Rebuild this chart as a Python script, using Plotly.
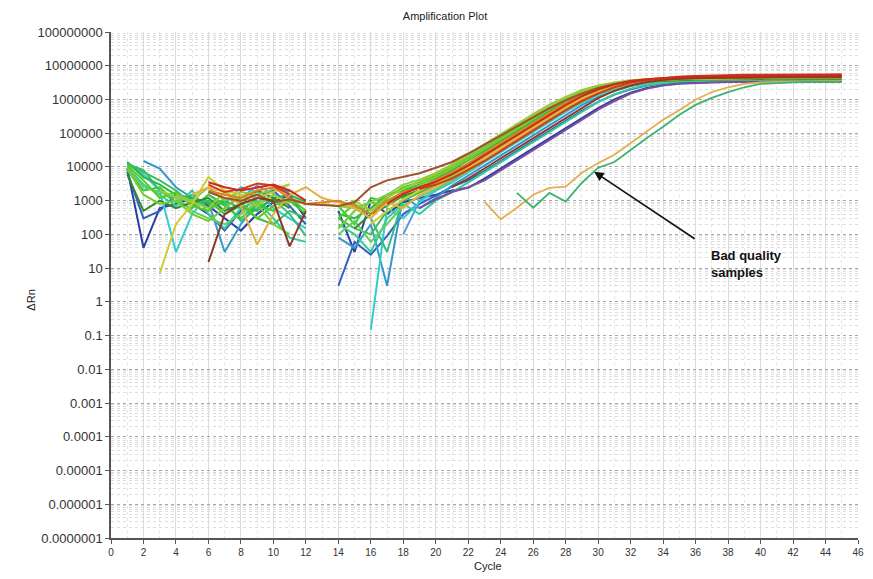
import math
import plotly.graph_objects as go

N = None

# Amplification curves: (start cycle, values for consecutive cycles)
series_colors = [
    "#2c3e9e", "#3060c0", "#3399cc", "#5599dd", "#33cccc", "#33cc99", "#33bb88",
    "#22bb44", "#33cc33", "#44bb55", "#66cc66", "#2e8b2e", "#55cc22", "#77cc33",
    "#88cc44", "#99cc33", "#cccc33", "#7a4fa0", "#e6b040", "#e08020", "#a0522d",
    "#8b3a2a", "#d03a20", "#cc2a1a",
]
series_start = [1, 1, 2, 7, 1, 1, 1, 1, 1, 1, 1, 1, 1, 1, 4, 3, 3, 19, 5, 6, 6, 6, 6, 6]
series_values = [
    [9000, 40, 600, 800, 1200, 700, 300, 130, 400, 900, 1500, 300, N, 500, 30, 1000, 400, 900, 1200, 1500, 2000, 2400, 4500, 9000, 18000, 36000, 70000, 1.4e5, 2.8e5, 5.5e5, 1.0e6, 1.6e6, 2.2e6, 2.7e6, 3.0e6, 3.2e6, 3.3e6, 3.4e6, 3.4e6, 3.5e6, 3.5e6, 3.5e6, 3.5e6, 3.6e6, 3.6e6],
    [7000, 300, 500, 1500, 800, 400, 130, 500, 1200, 2000, 700, 200, N, 3, 60, 25, 90, 400, 800, 1400, 2600, 4000, 7500, 15000, 30000, 60000, 1.2e5, 2.4e5, 4.6e5, 8.5e5, 1.4e6, 2.0e6, 2.6e6, 3.0e6, 3.3e6, 3.5e6, 3.6e6, 3.7e6, 3.8e6, 3.8e6, 3.9e6, 3.9e6, 4.0e6, 4.0e6, 4.0e6],
    [15000, 9000, 2500, 1200, 900, 30, 200, 800, 2500, 1800, N, N, 80, 40, 200, 3, 1500, 600, 1200, 2800, 5500, 11000, 22000, 45000, 90000, 1.8e5, 3.5e5, 6.8e5, 1.2e6, 1.8e6, 2.5e6, 3.0e6, 3.3e6, 3.5e6, 3.6e6, 3.7e6, 3.8e6, 3.8e6, 3.9e6, 3.9e6, 4.0e6, 4.0e6, 4.0e6, 4.1e6],
    [700, 1200, 2800, 1600, 900, N, N, N, N, N, N, 100, 1000, 2000, 3600, 7000, 14000, 28000, 56000, 1.1e5, 2.2e5, 4.4e5, 8.4e5, 1.45e6, 2.1e6, 2.7e6, 3.1e6, 3.4e6, 3.6e6, 3.7e6, 3.7e6, 3.8e6, 3.8e6, 3.8e6, 3.9e6, 3.9e6, 3.9e6, 3.9e6, 4.0e6],
    [12000, 6000, 2000, 30, 400, 1500, 800, 2500, 1800, 600, 300, 150, N, N, N, 0.15, 600, 300, 900, 2000, 3500, 7000, 14000, 28000, 56000, 1.1e5, 2.2e5, 4.3e5, 8.0e5, 1.4e6, 2.0e6, 2.6e6, 3.0e6, 3.3e6, 3.5e6, 3.6e6, 3.6e6, 3.7e6, 3.7e6, 3.8e6, 3.8e6, 3.8e6, 3.9e6, 3.9e6, 3.9e6],
    [10000, 3000, 1500, 700, 2000, 400, 150, 600, 1000, 300, 80, 60, N, 200, 100, 30, 300, 800, 400, 1000, 1800, 3500, 7000, 14000, 28000, 56000, 1.1e5, 2.2e5, 4.4e5, 8.5e5, 1.4e6, 2.1e6, 2.7e6, 3.1e6, 3.4e6, 3.5e6, 3.6e6, 3.7e6, 3.7e6, 3.8e6, 3.8e6, 3.8e6, 3.9e6, 3.9e6, 3.9e6],
    [12000, 8000, 2000, 900, 1500, 600, 900, 250, 600, 1100, 400, 90, N, N, 600, 300, 30, 1200, 1800, 2800, 5000, 9000, 18000, 36000, 72000, 1.4e5, 2.8e5, 5.4e5, 1.0e6, 1.6e6, 2.3e6, 2.9e6, 3.3e6, 3.6e6, 3.8e6, 3.9e6, 4.0e6, 4.0e6, 4.0e6, 4.1e6, 4.1e6, 4.1e6, 4.1e6, 4.2e6, 4.2e6],
    [14000, 5000, 3000, 1500, 1200, 800, 1000, 600, 500, 1200, 1500, 900, N, 400, 300, 600, 1500, 2000, 3000, 4500, 8000, 16000, 30000, 60000, 1.2e5, 2.4e5, 4.6e5, 8.5e5, 1.4e6, 2.0e6, 2.7e6, 3.2e6, 3.6e6, 3.8e6, 4.0e6, 4.1e6, 4.2e6, 4.2e6, 4.3e6, 4.3e6, 4.3e6, 4.4e6, 4.4e6, 4.4e6, 4.4e6],
    [8000, 2000, 2500, 900, 600, 1500, 700, 300, 800, 500, 1000, 400, N, 700, 200, 1200, 900, 1800, 2500, 3800, 6500, 12000, 24000, 48000, 95000, 1.9e5, 3.7e5, 7.0e5, 1.2e6, 1.8e6, 2.5e6, 3.0e6, 3.4e6, 3.7e6, 3.9e6, 4.0e6, 4.1e6, 4.1e6, 4.2e6, 4.2e6, 4.2e6, 4.3e6, 4.3e6, 4.3e6, 4.3e6],
    [13000, 7000, 4000, 2000, 800, 1000, 400, 700, 300, 200, 500, 300, N, 300, 150, 100, 500, 1000, 1700, 3000, 5200, 10000, 19000, 38000, 76000, 1.5e5, 3.0e5, 5.8e5, 1.05e6, 1.7e6, 2.4e6, 3.0e6, 3.4e6, 3.7e6, 3.9e6, 4.0e6, 4.0e6, 4.1e6, 4.1e6, 4.1e6, 4.2e6, 4.2e6, 4.2e6, 4.2e6, 4.2e6],
    [9500, 2500, 1800, 1200, 500, 300, 200, 400, 900, 1400, N, N, N, 100, 250, 60, 200, 700, 1300, 2200, 4000, 7500, 15000, 30000, 60000, 1.2e5, 2.4e5, 4.7e5, 8.8e5, 1.5e6, 2.2e6, 2.8e6, 3.2e6, 3.5e6, 3.7e6, 3.8e6, 3.8e6, 3.9e6, 3.9e6, 3.9e6, 4.0e6, 4.0e6, 4.0e6, 4.0e6, 4.0e6],
    [6000, 500, 1000, 600, 900, 1200, 500, 800, 2000, 1200, 600, N, N, N, 150, 400, 700, 1400, 2000, 3400, 6000, 11000, 21000, 42000, 84000, 1.65e5, 3.2e5, 6.2e5, 1.1e6, 1.7e6, 2.4e6, 3.0e6, 3.4e6, 3.6e6, 3.8e6, 3.9e6, 3.9e6, 4.0e6, 4.0e6, 4.0e6, 4.1e6, 4.1e6, 4.1e6, 4.1e6, 4.1e6],
    [11000, 4000, 1200, 1800, 700, 500, 1200, 900, 300, 700, 1200, 500, N, 300, 800, 400, 1200, 2500, 3500, 5500, 10000, 19000, 38000, 75000, 1.5e5, 3.0e5, 5.6e5, 1.0e6, 1.6e6, 2.3e6, 2.9e6, 3.4e6, 3.8e6, 4.0e6, 4.2e6, 4.3e6, 4.3e6, 4.4e6, 4.4e6, 4.5e6, 4.5e6, 4.5e6, 4.5e6, 4.6e6, 4.6e6],
    [9000, 1500, 800, 1000, 400, 250, 600, 1500, 800, 200, 100, N, N, 150, 500, 900, 700, 1600, 2800, 5000, 9000, 17000, 34000, 68000, 1.35e5, 2.7e5, 5.2e5, 9.5e5, 1.5e6, 2.2e6, 2.8e6, 3.3e6, 3.7e6, 3.9e6, 4.1e6, 4.2e6, 4.2e6, 4.3e6, 4.3e6, 4.3e6, 4.4e6, 4.4e6, 4.4e6, 4.4e6, 4.5e6],
    [1500, 1000, 2500, 1000, 1800, 1500, 2200, 3000, N, 800, 700, 600, 900, 1500, 3000, 4200, 6500, 11000, 21000, 42000, 84000, 1.65e5, 3.2e5, 6.0e5, 1.05e6, 1.7e6, 2.4e6, 3.0e6, 3.5e6, 3.8e6, 4.0e6, 4.1e6, 4.2e6, 4.2e6, 4.3e6, 4.3e6, 4.3e6, 4.3e6, 4.4e6, 4.4e6, 4.4e6, 4.4e6],
    [2000, 1300, 900, 600, 1800, 1000, 700, 1500, 800, N, N, 600, 1000, 500, 1300, 2200, 3800, 6500, 12000, 24000, 47000, 95000, 1.9e5, 3.7e5, 7.0e5, 1.2e6, 1.9e6, 2.6e6, 3.2e6, 3.7e6, 4.0e6, 4.2e6, 4.4e6, 4.5e6, 4.5e6, 4.6e6, 4.6e6, 4.6e6, 4.7e6, 4.7e6, 4.7e6, 4.7e6, 4.7e6],
    [7, 200, 800, 5000, 2000, 1500, 1200, 1800, 3000, N, N, N, N, 200, 500, 1100, 2000, 3200, 5500, 10000, 20000, 40000, 80000, 1.6e5, 3.2e5, 6.2e5, 1.1e6, 1.7e6, 2.4e6, 3.0e6, 3.5e6, 3.8e6, 4.0e6, 4.1e6, 4.2e6, 4.2e6, 4.3e6, 4.3e6, 4.3e6, 4.4e6, 4.4e6, 4.4e6, 4.4e6],
    [600, 1100, 1800, 2500, 4000, 8000, 16000, 32000, 64000, 1.3e5, 2.6e5, 5.0e5, 9.0e5, 1.5e6, 2.1e6, 2.6e6, 2.9e6, 3.1e6, 3.2e6, 3.3e6, 3.3e6, 3.3e6, 3.4e6, 3.4e6, 3.4e6, 3.4e6, 3.4e6],
    [1500, 2500, 1800, 700, 50, 400, 1500, 2500, 1200, 900, 600, 300, 900, 600, 1500, 2600, 4500, 9000, 18000, 36000, 72000, 1.45e5, 2.9e5, 5.6e5, 1.0e6, 1.6e6, 2.3e6, 3.0e6, 3.5e6, 3.9e6, 4.2e6, 4.4e6, 4.5e6, 4.6e6, 4.7e6, 4.7e6, 4.8e6, 4.8e6, 4.8e6, 4.9e6, 4.9e6],
    [2000, 1500, 1200, 2000, 2500, 1200, 800, 900, 1000, 700, 400, 1000, 1800, 2400, 4000, 7000, 13000, 26000, 52000, 1.0e5, 2.0e5, 4.0e5, 7.8e5, 1.35e6, 2.0e6, 2.8e6, 3.5e6, 4.0e6, 4.3e6, 4.5e6, 4.6e6, 4.7e6, 4.7e6, 4.8e6, 4.8e6, 4.8e6, 4.9e6, 4.9e6, 4.9e6, 5.0e6],
    [1800, 1200, 1000, 1500, 900, 1100, 800, 750, 700, 900, 2500, 4000, 5000, 6500, 9500, 14000, 25000, 45000, 85000, 1.6e5, 3.0e5, 5.5e5, 9.5e5, 1.5e6, 2.2e6, 2.9e6, 3.4e6, 3.8e6, 4.0e6, 4.2e6, 4.3e6, 4.3e6, 4.4e6, 4.4e6, 4.4e6, 4.5e6, 4.5e6, 4.5e6, 4.5e6, 4.5e6],
    [15, 400, 800, 1200, 1000, 44, 500, N, N, N, N, N, N, N, N, 2500, 4500, 9000, 18000, 36000, 72000, 1.45e5, 2.9e5, 5.8e5, 1.1e6, 1.8e6, 2.6e6, 3.3e6, 3.8e6, 4.1e6, 4.3e6, 4.4e6, 4.5e6, 4.5e6, 4.6e6, 4.6e6, 4.6e6, 4.7e6, 4.7e6, 4.7e6],
    [3000, 1800, 2200, 3200, 2800, 1500, N, N, N, N, N, N, N, 2200, 3000, 4500, 8000, 15000, 30000, 60000, 1.2e5, 2.4e5, 4.8e5, 9.0e5, 1.5e6, 2.3e6, 3.1e6, 3.8e6, 4.3e6, 4.7e6, 5.0e6, 5.2e6, 5.3e6, 5.4e6, 5.4e6, 5.5e6, 5.5e6, 5.5e6, 5.5e6, 5.6e6],
    [3500, 2500, 2000, 2500, 3000, 2000, 1000, N, N, N, N, 800, 1600, 2500, 3600, 6000, 11000, 22000, 44000, 88000, 1.75e5, 3.5e5, 6.8e5, 1.25e6, 2.0e6, 2.8e6, 3.5e6, 4.0e6, 4.4e6, 4.6e6, 4.8e6, 4.9e6, 5.0e6, 5.0e6, 5.1e6, 5.1e6, 5.1e6, 5.1e6, 5.2e6, 5.2e6],
]

# Bad quality samples
bad_colors = ["#e0b050", "#3cb371"]
bad_start = [23, 25]
bad_values = [
    [940, 280, 620, 1500, 2400, 2600, 6700, 13000, 23000, 51000, 1.1e5, 2.5e5, 4.9e5, 9.8e5, 1.66e6, 2.3e6, 2.9e6, 3.2e6, 3.3e6, 3.4e6, 3.4e6, 3.5e6, 3.5e6],
    [1700, 620, 1700, 940, 3400, 9500, 14000, 32000, 72000, 1.55e5, 3.5e5, 6.9e5, 1.12e6, 1.66e6, 2.3e6, 2.9e6, 3.1e6, 3.2e6, 3.3e6, 3.3e6, 3.3e6],
]

y_tick_vals = [1e-7, 1e-6, 1e-5, 1e-4, 1e-3, 1e-2, 1e-1, 1, 10, 100, 1000, 1e4, 1e5, 1e6, 1e7, 1e8]
y_tick_text = ["0.0000001", "0.000001", "0.00001", "0.0001", "0.001", "0.01", "0.1", "1",
               "10", "100", "1000", "10000", "100000", "1000000", "10000000", "100000000"]

arrow_head = (29.75, 7200)
label_pos = (36.83, 13.7)

fig = go.Figure()

for start, vals, col in zip(series_start, series_values, series_colors):
    xs = list(range(start, start + len(vals)))
    fig.add_trace(go.Scatter(x=xs, y=vals, mode="lines", connectgaps=False,
                             line=dict(color=col, width=2), showlegend=False,
                             hoverinfo="skip"))

for start, vals, col in zip(bad_start, bad_values, bad_colors):
    xs = list(range(start, start + len(vals)))
    fig.add_trace(go.Scatter(x=xs, y=vals, mode="lines", connectgaps=False,
                             line=dict(color=col, width=1.8), showlegend=False,
                             hoverinfo="skip"))

font_family = "Liberation Sans, Arial, sans-serif"

fig.update_layout(
    width=873, height=579,
    margin=dict(l=111, r=9, t=32, b=41),
    paper_bgcolor="white", plot_bgcolor="white",
    title=dict(text="Amplification Plot", x=445 / 873, xanchor="center",
               y=1 - 16 / 579, yanchor="middle", xref="container", yref="container",
               font=dict(family=font_family, size=11, color="#222")),
    font=dict(family=font_family, color="#333"),
    xaxis=dict(
        range=[0, 46], dtick=2, tick0=0,
        showline=True, linecolor="#555", linewidth=1.5,
        ticks="outside", ticklen=4, tickcolor="#555",
        tickfont=dict(size=10, color="#333"),
        showgrid=True, gridcolor="#dcdcdc", gridwidth=1,
        minor=dict(dtick=1, showgrid=True, gridcolor="#e6e6e6", griddash="dot"),
        zeroline=False,
    ),
    yaxis=dict(
        type="log", range=[-7, 8],
        tickvals=y_tick_vals, ticktext=y_tick_text,
        showline=True, linecolor="#555", linewidth=1.5,
        ticks="outside", ticklen=4, tickcolor="#555",
        tickfont=dict(size=13, color="#333"),
        showgrid=True, gridcolor="#a8a8a8", gridwidth=1, griddash="dot",
        minor=dict(dtick="D1", showgrid=True, gridcolor="#dddddd", griddash="dot"),
        zeroline=False,
    ),
)

# annotations on a log axis take log10 coordinates
fig.add_annotation(x=arrow_head[0], y=math.log10(arrow_head[1]), xref="x", yref="y",
                   text="", showarrow=True, ax=102, ay=68,
                   arrowhead=2, arrowsize=1.2, arrowwidth=1.6, arrowcolor="#111")
fig.add_annotation(x=label_pos[0], y=math.log10(label_pos[1]), xref="x", yref="y",
                   text="<b>Bad quality<br>samples</b>", showarrow=False,
                   xanchor="left", yanchor="middle", align="left",
                   font=dict(family=font_family, size=13, color="#111"))
fig.add_annotation(x=(30 - 111) / 753, y=(538 - 300) / 506, xref="paper", yref="paper",
                   text="ΔRn", showarrow=False, textangle=-90,
                   xanchor="center", yanchor="middle",
                   font=dict(family=font_family, size=11, color="#222"))
fig.add_annotation(x=(491 - 111) / 753, y=-(566 - 538) / 506, xref="paper", yref="paper",
                   text="Cycle", showarrow=False, xanchor="center", yanchor="middle",
                   font=dict(family=font_family, size=11, color="#222"))

fig.write_html("out.html")
